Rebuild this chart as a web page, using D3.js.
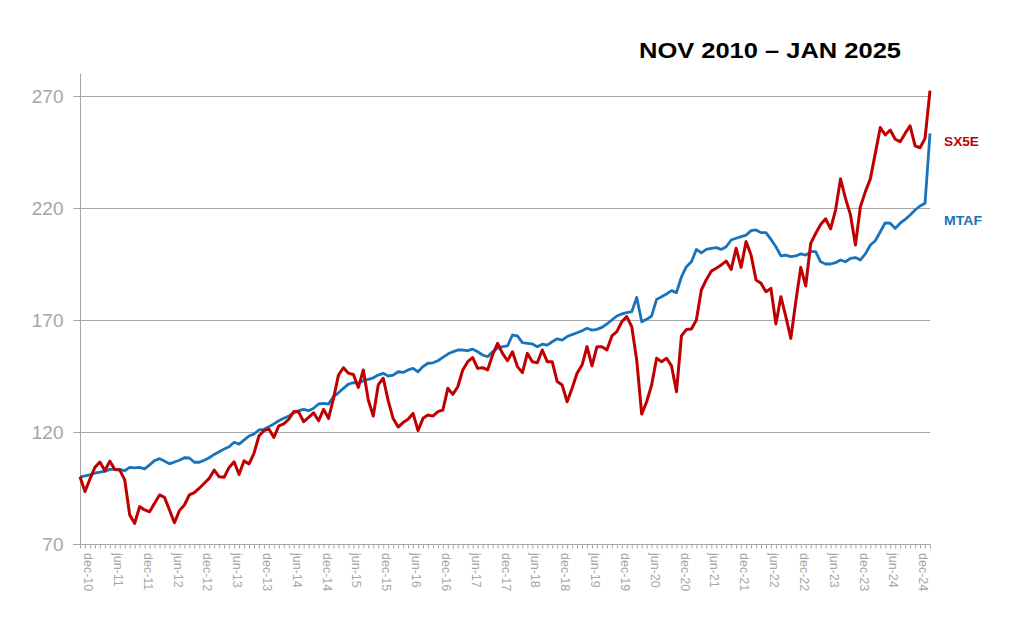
<!DOCTYPE html>
<html>
<head>
<meta charset="utf-8">
<script src="https://cdn.jsdelivr.net/npm/d3@7/dist/d3.min.js"></script>
<style>
  html, body { margin: 0; padding: 0; background: #ffffff; }
  svg { display: block; }
</style>
</head>
<body>
<svg id="chart" width="1024" height="635"></svg>
<script>
// ---- DATA ----
const titleText = "NOV 2010 \u2013 JAN 2025";
const seriesNames = ["SX5E", "MTAF"];
const startYear = 2010, startMonth = 9; // first observation: Oct 2010 (base = 100)

const sx5e = [
  100, 93.4, 99, 104.2, 106.6, 102.7, 107, 103.3, 103, 98.6,
  83, 79.2, 86.7, 85.2, 84.4, 88.2, 91.9, 90.8, 85.2, 79.5,
  84.9, 87.4, 91.9, 92.9, 94.9, 97.1, 99.3, 103, 100, 99.8,
  104.2, 106.7, 101, 107.2, 105.7, 110.5, 118.2, 120.6, 121.3, 117.6,
  122.7, 123.6, 125.7, 129.1, 128.9, 124.6, 126.5, 128.6, 125, 130.1,
  126.1, 135, 145.4, 148.7, 146.2, 145.7, 139.9, 147.7, 134.3, 127.1,
  141, 144, 134, 126, 122.2, 124.2, 125.7, 128.3, 120.6, 126.1,
  127.6, 127.1, 129.1, 129.8, 139.5, 136.8, 140.2, 147.7, 151.4, 153.2,
  148.4, 148.7, 147.7, 154.4, 159.6, 155.1, 151.8, 155.8, 149.2, 146.5,
  155.1, 151.4, 150.9, 156.6, 151.4, 151.4, 142.5, 141, 133.5, 139.5,
  146.2, 149.9, 158.1, 149.5, 158.1, 158.1, 156.6, 162.9, 164.8, 169.2,
  171.5, 167, 152.1, 128, 133.5, 141, 152.9, 151.4, 152.9, 149.5,
  138, 162.9, 165.8, 166, 170, 183.4, 188, 191.8, 193.1, 194.6,
  196.3, 192.6, 202, 193.5, 205, 199, 187.9, 186.4, 182.6, 184.1,
  168.2, 180.4, 171.5, 161.8, 178.2, 193.5, 185.2, 204.2, 208.6, 212.6,
  215.2, 210.7, 219.1, 233, 224.3, 216.9, 203.5, 220.6, 227.3, 233,
  244.4, 255.9, 252.6, 254.8, 250.7, 249.6, 253.3, 256.7, 247.7, 246.9,
  251.1, 272.4
];

const mtaf = [
  100, 100.4, 100.9, 101.6, 102.1, 102.4, 103.3, 103.3, 103.3, 102.7,
  104.2, 104, 104.2, 103.5, 105.3, 107.2, 108.1, 107, 105.8, 106.6,
  107.4, 108.5, 108.4, 106.5, 106.5, 107.4, 108.5, 110, 111.2, 112.4,
  113.4, 115.4, 114.6, 116.4, 118.2, 119.1, 120.9, 121.2, 122.4, 123.6,
  125, 126.1, 127.1, 128.6, 129.5, 130.1, 129.5, 130.6, 132.5, 132.8,
  132.5, 135.8, 137.5, 139.5, 141.4, 142, 141.7, 142.9, 143.5, 144.2,
  145.4, 146.2, 145, 145.4, 146.9, 146.6, 147.7, 148.4, 146.9, 149.2,
  150.7, 150.9, 151.8, 153.3, 154.8, 155.8, 156.6, 156.6, 156.3, 157,
  155.8, 154.4, 153.6, 155.8, 157.4, 158.1, 158.4, 163.3, 162.9, 159.9,
  159.6, 159.3, 158.1, 159.2, 158.8, 160.3, 161.6, 161, 162.6, 163.5,
  164.3, 165.2, 166.3, 165.5, 165.8, 166.7, 168.2, 170, 171.8, 172.7,
  173.3, 173.7, 180.1, 169.2, 170.3, 171.8, 179.2, 180.4, 181.6, 183.1,
  182.2, 189.3, 193.8, 196, 201.5, 200, 201.5, 202, 202.3, 201.5,
  202.7, 205.7, 206.5, 207.2, 207.9, 209.9, 210.2, 209, 209, 206,
  202.7, 198.6, 199, 198.3, 198.6, 199.5, 199, 200.5, 200.5, 196,
  195, 195, 195.6, 196.8, 196, 197.5, 197.9, 196.8, 199.5, 203.5,
  205.4, 209.4, 213.4, 213.2, 210.9, 213.2, 214.9, 216.9, 219.1, 220.9,
  222.1, 253.3
];

const yTicks = [70, 120, 170, 220, 270];
const xTickLabels = ["dec-10","jun-11","dec-11","jun-12","dec-12","jun-13","dec-13","jun-14",
  "dec-14","jun-15","dec-15","jun-16","dec-16","jun-17","dec-17","jun-18","dec-18","jun-19",
  "dec-19","jun-20","dec-20","jun-21","dec-21","jun-22","dec-22","jun-23","dec-23","jun-24","dec-24"];

(function () {
  // month category keys, one per observation
  const enAbbr = ["jan","feb","mar","apr","may","jun","jul","aug","sep","oct","nov","dec"];
  const categories = sx5e.map((_, i) => {
    const m = (startMonth + i) % 12;
    const yr = startYear + Math.floor((startMonth + i) / 12);
    return enAbbr[m] + "-" + String(yr).slice(2);
  });

  const svg = d3.select("#chart");
  const pLeft = 80, pRight = 930, pTop = 73.6, pBottom = 544;

  const x = d3.scalePoint().domain(categories).range([pLeft, pRight]);
  const y = d3.scaleLinear().domain([70, 280]).range([pBottom, pTop]);

  const gridColor = "#a6a6a6";
  const labelColor = "#a6a6a6";
  const fontFam = "'Liberation Sans', Arial, sans-serif";

  // gridlines
  svg.append("g")
    .selectAll("line")
    .data(yTicks.filter(d => d !== 70))
    .join("line")
    .attr("x1", pLeft).attr("x2", pRight)
    .attr("y1", d => Math.round(y(d)) + 0.5).attr("y2", d => Math.round(y(d)) + 0.5)
    .attr("stroke", gridColor).attr("stroke-width", 1);

  // y axis
  const yAxis = d3.axisLeft(y).tickValues(yTicks).tickSize(7).tickPadding(10).tickFormat(d3.format("d"));
  const gy = svg.append("g").attr("transform", `translate(${pLeft + 0.5},0)`).call(yAxis);
  gy.select(".domain").attr("stroke", gridColor).attr("d", `M0,${pTop}V${pBottom}`);
  gy.selectAll(".tick line").attr("stroke", gridColor);
  gy.selectAll(".tick text")
    .attr("fill", labelColor)
    .style("font-family", fontFam)
    .style("font-size", "19px");

  // x axis with a minor tick at every month
  const xAxis = d3.axisBottom(x).tickSize(4).tickFormat("");
  const gx = svg.append("g").attr("transform", `translate(0,${pBottom + 0.5})`).call(xAxis);
  gx.select(".domain").attr("stroke", gridColor).attr("d", `M${pLeft - 7},0H${pRight}`);
  gx.selectAll(".tick line").attr("stroke", gridColor);

  // x tick labels
  svg.append("g")
    .selectAll("text")
    .data(xTickLabels)
    .join("text")
    .attr("transform", d => `translate(${x(d) - 1.5},${pBottom + 9}) rotate(90)`)
    .attr("dy", "0.35em")
    .attr("text-anchor", "start")
    .attr("fill", labelColor)
    .style("font-family", fontFam)
    .style("font-size", "12.5px")
    .text(d => d);

  // lines
  const line = d3.line().x((d, i) => x(categories[i])).y(d => y(d));
  svg.append("path").datum(mtaf)
    .attr("fill", "none").attr("stroke", "#1a73ba").attr("stroke-width", 2.8)
    .attr("stroke-linejoin", "round").attr("d", line);
  svg.append("path").datum(sx5e)
    .attr("fill", "none").attr("stroke", "#c00000").attr("stroke-width", 3)
    .attr("stroke-linejoin", "round").attr("d", line);

  // series labels
  svg.append("text").attr("x", 944).attr("y", 146)
    .attr("fill", "#c00000").style("font-family", fontFam)
    .style("font-weight", "bold").style("font-size", "13px")
    .attr("textLength", 35).attr("lengthAdjust", "spacingAndGlyphs").text(seriesNames[0]);
  svg.append("text").attr("x", 944).attr("y", 225)
    .attr("fill", "#1a73ba").style("font-family", fontFam)
    .style("font-weight", "bold").style("font-size", "13px")
    .attr("textLength", 38).attr("lengthAdjust", "spacingAndGlyphs").text(seriesNames[1]);

  // title
  svg.append("text").attr("x", 639).attr("y", 57.5)
    .attr("fill", "#000").style("font-family", fontFam)
    .style("font-weight", "bold").style("font-size", "22px")
    .attr("textLength", 262).attr("lengthAdjust", "spacingAndGlyphs")
    .text(titleText);
})();
</script>
</body>
</html>
